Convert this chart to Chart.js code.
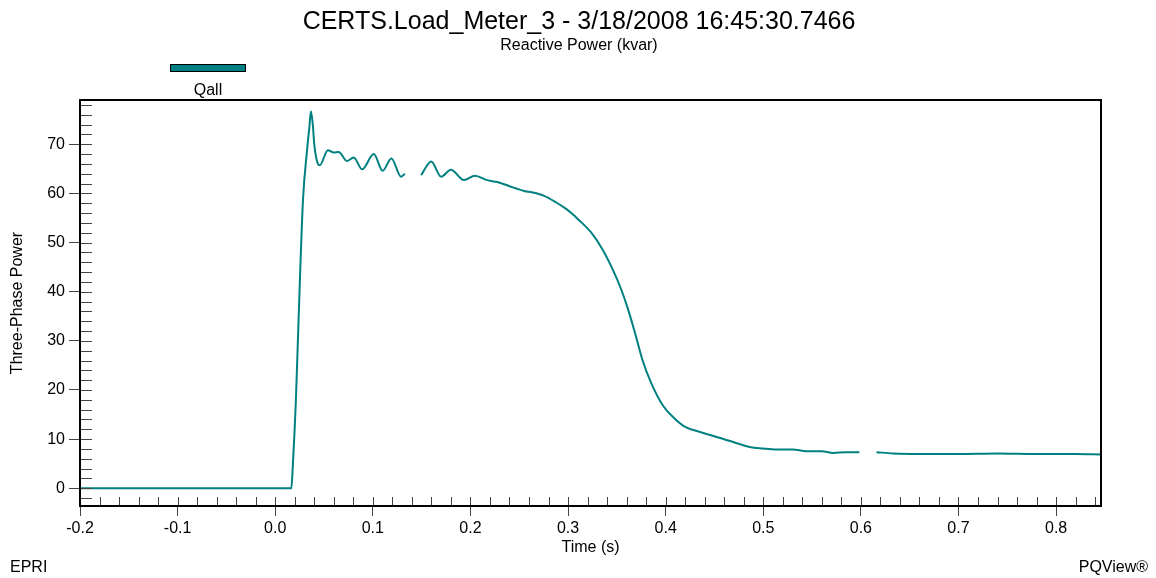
<!DOCTYPE html>
<html>
<head>
<meta charset="utf-8">
<script src="https://cdn.jsdelivr.net/npm/chart.js@4.4.1/dist/chart.umd.min.js"></script>
<style>
  body { margin: 0; background: #fff; }
  #wrap { position: relative; width: 1156px; height: 578px; font-family: "Liberation Sans", Arial, sans-serif; color: #000; }
  #chart { position: absolute; left: 0; top: 0; }
  .txt { position: absolute; white-space: nowrap; line-height: 1; }
  #title { top: 7.5px; left: 0; width: 1158px; text-align: center; font-size: 25px; }
  #subtitle { top: 37px; left: 0; width: 1158px; text-align: center; font-size: 16px; }
  #legendBox { position: absolute; left: 170px; top: 64px; width: 74px; height: 6px; background: #008080; border: 1px solid #000; }
  #legendText { top: 81.5px; left: 158px; width: 100px; text-align: center; font-size: 16px; }
  #epri { top: 558.5px; left: 10px; font-size: 16px; }
  #pqview { top: 558.5px; right: 8px; font-size: 16px; }
</style>
</head>
<body>
<div id="wrap">
  <canvas id="chart" width="1156" height="578"></canvas>
  <div class="txt" id="title">CERTS.Load_Meter_3 - 3/18/2008 16:45:30.7466</div>
  <div class="txt" id="subtitle">Reactive Power (kvar)</div>
  <div id="legendBox"></div>
  <div class="txt" id="legendText">Qall</div>
  <div class="txt" id="epri">EPRI</div>
  <div class="txt" id="pqview">PQView®</div>
</div>
<script>
// time in seconds, null = gap in the recording
const timeValues = [
  -0.2, 0.0165, 0.018, 0.0212, 0.0246, 0.0284, 0.0325, 0.0349, 0.0366, 0.0385,
  0.040, 0.0437, 0.0455, 0.054, 0.060, 0.065, 0.0735, 0.0804, 0.089, 0.101,
  0.110, 0.119, 0.129, 0.1328, 0.141, 0.1495, 0.1598, 0.170, 0.180, 0.1933,
  0.2046, 0.217, 0.2275, 0.2395, 0.255, 0.2635, 0.2755, 0.2875, 0.2977, 0.3045,
  0.311, 0.3234, 0.3353, 0.3456, 0.3542, 0.361, 0.3679, 0.3764, 0.385, 0.397,
  0.407, 0.419, 0.4346, 0.455, 0.4757, 0.486, 0.4996, 0.5133, 0.530, 0.544,
  0.5596, 0.5715, 0.585, 0.5985, 0.607, 0.616, 0.633, 0.66, 0.70, 0.74,
  0.78, 0.82, 0.846
];
const qallValues = [
  0, 0, 4.5, 18, 38.3, 58.5, 68.6, 73.3, 76.7, 74,
  70, 66, 65.7, 68.8, 68.3, 68.4, 66.6, 67.3, 64.9, 68.0,
  64.6, 67.1, 63.4, 64.0, null, 63.7, 66.5, 63.4, 64.8, 62.7,
  63.6, 62.7, 62.3, 61.5, 60.5, 60.2, 59.5, 58.2, 56.9, 55.8,
  54.6, 52.1, 48.6, 44.6, 40.6, 36.7, 32.1, 26.0, 21.5, 16.9,
  14.6, 12.6, 11.5, 10.3, 9.0, 8.4, 8.1, 7.9, 7.9, 7.55,
  7.55, 7.2, 7.35, 7.35, null, 7.35, 7.1, 7.0, 7.0, 7.1,
  7.0, 7.0, 6.9
];
const xTickValues = [-0.2, -0.1, 0.0, 0.1, 0.2, 0.3, 0.4, 0.5, 0.6, 0.7, 0.8];
const yTickValues = [0, 10, 20, 30, 40, 50, 60, 70];

const FONT = "'Liberation Sans', Arial, sans-serif";

// small inner ticks and the black frame round the plot
const innerTicks = {
  id: 'innerTicks',
  afterDatasetsDraw(chart) {
    const { ctx, chartArea: a, scales: { x, y } } = chart;
    ctx.save();
    ctx.strokeStyle = '#444';
    ctx.lineWidth = 1;
    ctx.beginPath();
    for (let i = -10; i <= 42; i++) {
      const px = Math.round(x.getPixelForValue(i * 0.02)) + 0.5;
      if (px > a.right - 2) continue;
      ctx.moveTo(px, a.bottom);
      ctx.lineTo(px, a.bottom - 9);
    }
    for (let i = -1; i <= 39; i++) {
      const py = Math.round(y.getPixelForValue(i * 2)) + 0.5;
      if (py < a.top + 2 || py > a.bottom - 2) continue;
      ctx.moveTo(a.left, py);
      ctx.lineTo(a.left + 12, py);
    }
    ctx.stroke();
    ctx.strokeStyle = '#000';
    ctx.lineWidth = 2;
    ctx.strokeRect(a.left, a.top, a.right - a.left, a.bottom - a.top);
    ctx.restore();
  }
};

new Chart(document.getElementById('chart'), {
  type: 'line',
  data: {
    datasets: [{
      label: 'Qall',
      data: timeValues.map((t, i) => ({ x: t, y: qallValues[i] })),
      borderColor: '#008080',
      borderWidth: 2,
      pointRadius: 0,
      cubicInterpolationMode: 'monotone',
      spanGaps: false,
      fill: false
    }]
  },
  options: {
    responsive: false,
    animation: false,
    layout: { padding: { top: 100, right: 55, left: 0, bottom: 0 } },
    plugins: { legend: { display: false }, tooltip: { enabled: false } },
    scales: {
      x: {
        type: 'linear',
        min: -0.2,
        max: 0.846,
        afterBuildTicks: s => { s.ticks = xTickValues.map(v => ({ value: v })); },
        afterFit: s => { s.height = 72; },
        grid: { drawOnChartArea: false, tickLength: 10, tickColor: '#444' },
        border: { display: false },
        ticks: {
          autoSkip: false, maxRotation: 0, padding: 3, color: '#000',
          font: { size: 16, family: FONT },
          callback: v => v.toFixed(1)
        },
        title: {
          display: true, text: 'Time (s)', color: '#000',
          font: { size: 16, family: FONT },
          padding: { top: 0, bottom: 21 }
        }
      },
      y: {
        min: -3.6,
        max: 79.0,
        afterBuildTicks: s => { s.ticks = yTickValues.map(v => ({ value: v })); },
        afterFit: s => { s.width = 80; },
        grid: { drawOnChartArea: false, tickLength: 11, tickColor: '#444' },
        border: { display: false },
        ticks: {
          padding: 4, color: '#000',
          font: { size: 16, family: FONT }
        },
        title: {
          display: true, text: 'Three-Phase Power', color: '#000',
          font: { size: 16, family: FONT },
          padding: { top: 8, bottom: 0 }
        }
      }
    }
  },
  plugins: [innerTicks]
});
</script>
</body>
</html>
